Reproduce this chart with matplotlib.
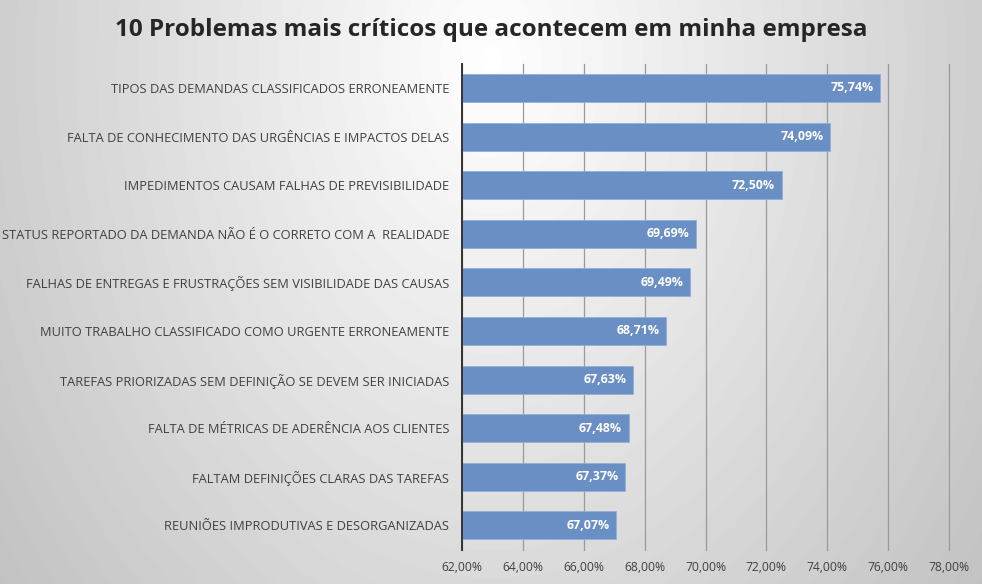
import numpy as np
import matplotlib
matplotlib.use("Agg")
import matplotlib.pyplot as plt
from matplotlib.ticker import FuncFormatter

categories = [
    "TIPOS DAS DEMANDAS CLASSIFICADOS ERRONEAMENTE",
    "FALTA DE CONHECIMENTO DAS URGÊNCIAS E IMPACTOS DELAS",
    "IMPEDIMENTOS CAUSAM FALHAS DE PREVISIBILIDADE",
    "STATUS REPORTADO DA DEMANDA NÃO É O CORRETO COM A  REALIDADE",
    "FALHAS DE ENTREGAS E FRUSTRAÇÕES SEM VISIBILIDADE DAS CAUSAS",
    "MUITO TRABALHO CLASSIFICADO COMO URGENTE ERRONEAMENTE",
    "TAREFAS PRIORIZADAS SEM DEFINIÇÃO SE DEVEM SER INICIADAS",
    "FALTA DE MÉTRICAS DE ADERÊNCIA AOS CLIENTES",
    "FALTAM DEFINIÇÕES CLARAS DAS TAREFAS",
    "REUNIÕES IMPRODUTIVAS E DESORGANIZADAS",
]
values = [75.74, 74.09, 72.50, 69.69, 69.49, 68.71, 67.63, 67.48, 67.37, 67.07]
ticks = [62, 64, 66, 68, 70, 72, 74, 76, 78]
title = "10 Problemas mais críticos que acontecem em minha empresa"

plt.rcParams['font.family'] = ['Open Sans', 'DejaVu Sans']

fig = plt.figure(figsize=(9.82, 5.84), dpi=100)

# background radial gradient
bg = fig.add_axes([0, 0, 1, 1], zorder=-10)
H, W = 584, 982
yy, xx = np.mgrid[0:H, 0:W]
cx, cy = W / 2, 60
d = np.sqrt(((xx - cx) / (W * 0.58)) ** 2 + ((yy - cy) / (H * 1.35)) ** 2)
shade = 1.0 - 0.22 * np.clip(d, 0, 1.2)
bg.imshow(shade, cmap='gray', vmin=0, vmax=1, aspect='auto', extent=[0, 1, 0, 1], origin='upper')
bg.axis('off')

ax = fig.add_axes([462 / 982, 1 - 549.7 / 584, (949 - 462) / 982, (549.7 - 63.7) / 584])
ax.patch.set_alpha(0)
y = np.arange(len(categories))
ax.barh(y, [v - ticks[0] for v in values], left=ticks[0], height=0.58,
        color='#6a8fc4', edgecolor='#8fb0da', linewidth=0.6, zorder=3)
ax.set_ylim(len(categories) - 0.5, -0.5)
ax.set_xlim(ticks[0], ticks[-1])
ax.set_xticks(ticks)
ax.xaxis.set_major_formatter(FuncFormatter(lambda v, p: f"{v:.2f}%".replace('.', ',')))
ax.set_yticks(y)
ax.set_yticklabels(categories, fontsize=9.3, color='#404040')
ax.tick_params(axis='y', length=0, pad=9)
ax.tick_params(axis='x', length=0, pad=8, labelsize=8.7, labelcolor='#404040')
ax.grid(axis='x', color='#9a9a9a', linewidth=0.9, zorder=0)
for gl in ax.get_xgridlines():
    gl.set_clip_on(False)
for s in ['top', 'right', 'bottom']:
    ax.spines[s].set_visible(False)
ax.spines['left'].set_color('#333333')
ax.spines['left'].set_linewidth(1.4)
ax.spines['left'].set_zorder(4)

for yi, v in zip(y, values):
    ax.text(v - 0.22, yi, f"{v:.2f}%".replace('.', ','), ha='right', va='center',
            color='white', fontsize=8.9, fontweight='bold', zorder=5)

fig.text(0.5, 1 - 30 / 584, title, ha='center', va='center', fontsize=17.5,
         fontweight='bold', color='#262626')

fig.savefig("out.png", dpi=100)
